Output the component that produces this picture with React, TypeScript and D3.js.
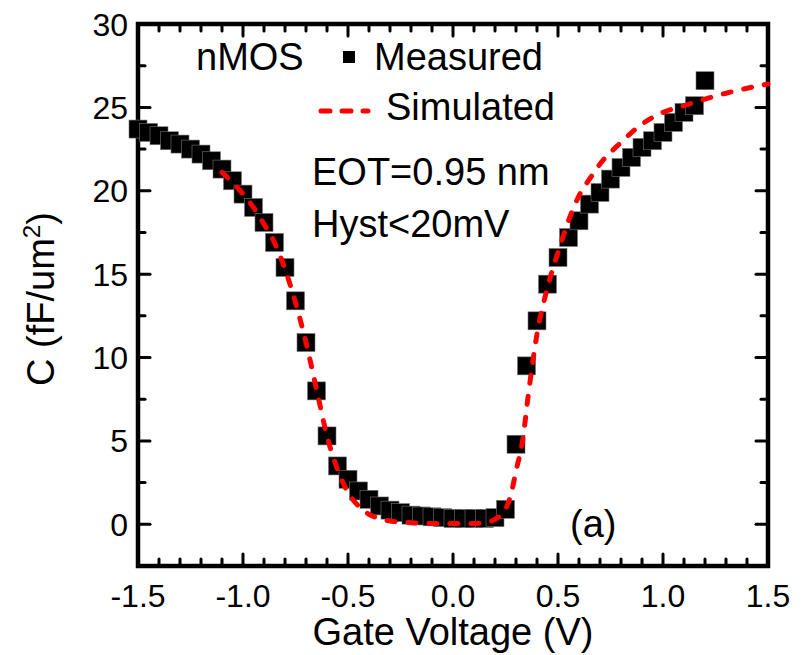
import React, { useEffect, useRef } from 'react';
import * as d3 from 'd3';

// measured C-V points (gate voltage in V, capacitance in fF/um^2)
const measuredV = [
    -1.50, -1.45, -1.40, -1.35, -1.30, -1.25, -1.20, -1.15, -1.10, -1.05,
    -1.00, -0.95, -0.90, -0.85, -0.80, -0.75, -0.70, -0.65, -0.60, -0.55,
    -0.50, -0.45, -0.40, -0.35, -0.30, -0.25, -0.20, -0.15, -0.10, -0.05,
    0.00, 0.05, 0.10, 0.15, 0.20, 0.25, 0.30, 0.35, 0.40, 0.45,
    0.50, 0.55, 0.60, 0.65, 0.70, 0.75, 0.80, 0.85, 0.90, 0.95,
    1.00, 1.05, 1.10, 1.15, 1.20,
];
const measuredC = [
    23.7, 23.5, 23.3, 23.0, 22.8, 22.5, 22.2, 21.8, 21.3, 20.6,
    19.8, 19.0, 18.1, 16.9, 15.4, 13.4, 10.9, 8.0, 5.3, 3.5,
    2.7, 2.0, 1.5, 1.1, 0.85, 0.7, 0.55, 0.5, 0.45, 0.4,
    0.35, 0.35, 0.35, 0.35, 0.4, 0.9, 4.8, 9.5, 12.2, 14.4,
    16.0, 17.2, 18.2, 19.2, 19.9, 20.7, 21.4, 22.0, 22.6, 23.0,
    23.5, 24.1, 24.7, 25.1, 26.6,
];

// simulated curve
const simulatedV = [
    -1.10, -1.05, -1.00, -0.95, -0.90, -0.85, -0.80, -0.75, -0.70, -0.65,
    -0.60, -0.55, -0.50, -0.45, -0.40, -0.35, -0.30, -0.20, -0.10, 0.00,
    0.10, 0.15, 0.20, 0.25, 0.28, 0.30, 0.33, 0.36, 0.40, 0.45,
    0.50, 0.55, 0.60, 0.65, 0.70, 0.80, 0.90, 1.00, 1.10, 1.20,
    1.30, 1.40, 1.50,
];
const simulatedC = [
    21.1, 20.5, 19.8, 19.0, 18.0, 16.9, 15.3, 13.3, 10.9, 8.1,
    5.3, 3.3, 1.9, 1.1, 0.6, 0.35, 0.2, 0.1, 0.05, 0.05,
    0.05, 0.1, 0.3, 0.9, 2.0, 3.2, 4.9, 7.9, 11.4, 14.2,
    16.3, 18.2, 19.7, 20.7, 21.6, 22.9, 24.0, 24.7, 25.1, 25.5,
    25.85, 26.15, 26.4,
];

const xTicks = [-1.5, -1.0, -0.5, 0.0, 0.5, 1.0, 1.5];
const yTicks = [0, 5, 10, 15, 20, 25, 30];

const FONT = '"Liberation Sans", Arial, sans-serif';

const App: React.FC = () => {
    const svgRef = useRef<SVGSVGElement | null>(null);

    useEffect(() => {
        if (!svgRef.current) return;
        const svg = d3.select(svgRef.current);
        svg.selectAll('*').remove();

        const left = 138, right = 768, top = 24, bottom = 566;

        const x = d3.scaleLinear().domain([-1.5, 1.5]).range([left, right]);
        const y = d3.scaleLinear().domain([-2.5, 30]).range([bottom, top]);

        const majorLen = 12;
        const minorLen = 7;

        // minor + major ticks, all inward, mirrored on top/right
        const xMinor = d3.range(-15, 16).map((d) => d / 10).filter((d) => !xTicks.some((t) => Math.abs(t - d) < 1e-6));
        const yMinor = d3.range(-1, 13).map((d) => d * 2.5 - 0).filter((d) => !yTicks.includes(d) && d >= -2.5 && d <= 30);

        const tickG = svg.append('g')
            .style('stroke', 'black')
            .style('stroke-width', 3)
            .style('stroke-linecap', 'round');

        const xTickData = [
            ...xTicks.map((v) => ({ v, len: majorLen })),
            ...xMinor.map((v) => ({ v, len: minorLen })),
        ];
        xTickData.forEach((t) => {
            tickG.append('line').attr('x1', x(t.v)).attr('x2', x(t.v)).attr('y1', bottom).attr('y2', bottom - t.len);
            tickG.append('line').attr('x1', x(t.v)).attr('x2', x(t.v)).attr('y1', top).attr('y2', top + t.len);
        });
        const yTickData = [
            ...yTicks.map((v) => ({ v, len: majorLen })),
            ...yMinor.map((v) => ({ v, len: minorLen })),
        ];
        yTickData.forEach((t) => {
            tickG.append('line').attr('y1', y(t.v)).attr('y2', y(t.v)).attr('x1', left).attr('x2', left + t.len);
            tickG.append('line').attr('y1', y(t.v)).attr('y2', y(t.v)).attr('x1', right).attr('x2', right - t.len);
        });

        // frame
        svg.append('rect')
            .attr('x', left)
            .attr('y', top)
            .attr('width', right - left)
            .attr('height', bottom - top)
            .style('fill', 'none')
            .style('stroke', 'black')
            .style('stroke-width', 4.5);

        // tick labels
        svg.selectAll('text.xLabel')
            .data(xTicks)
            .enter()
            .append('text')
            .attr('class', 'xLabel')
            .attr('x', (d) => x(d))
            .attr('y', 607)
            .attr('text-anchor', 'middle')
            .style('font-family', FONT)
            .style('font-size', '32px')
            .text((d) => d.toFixed(1));

        svg.selectAll('text.yLabel')
            .data(yTicks)
            .enter()
            .append('text')
            .attr('class', 'yLabel')
            .attr('x', 128)
            .attr('y', (d) => y(d))
            .attr('dy', '0.36em')
            .attr('text-anchor', 'end')
            .style('font-family', FONT)
            .style('font-size', '32px')
            .text((d) => String(d));

        // axis titles
        svg.append('text')
            .attr('x', x(0))
            .attr('y', 645)
            .attr('text-anchor', 'middle')
            .style('font-family', FONT)
            .style('font-size', '38px')
            .text('Gate Voltage (V)');

        const yTitle = svg.append('text')
            .attr('transform', `translate(54, ${(top + bottom) / 2 + 4}) rotate(-90)`)
            .attr('text-anchor', 'middle')
            .style('font-family', FONT)
            .style('font-size', '38px');
        yTitle.append('tspan').text('C (fF/um');
        yTitle.append('tspan').attr('dy', -14).style('font-size', '24px').text('2');
        yTitle.append('tspan').attr('dy', 14).text(')');

        // measured squares
        const size = 18;
        const measured = measuredV.map((v, i) => ({ v, c: measuredC[i] }));
        svg.append('g')
            .selectAll('rect')
            .data(measured)
            .enter()
            .append('rect')
            .attr('x', (d) => x(d.v) - size / 2)
            .attr('y', (d) => y(d.c) - size / 2)
            .attr('width', size)
            .attr('height', size)
            .style('fill', 'black')
            .style('stroke', '#777')
            .style('stroke-width', 0.6);

        // simulated dashed line
        const simulated = simulatedV.map((v, i) => ({ v, c: simulatedC[i] }));
        const line = d3.line<{ v: number; c: number }>()
            .x((d) => x(d.v))
            .y((d) => y(d.c))
            .curve(d3.curveMonotoneX);
        svg.append('path')
            .datum(simulated)
            .attr('d', line)
            .style('fill', 'none')
            .style('stroke', '#ff0000')
            .style('stroke-width', 5)
            .style('stroke-linecap', 'round')
            .style('stroke-dasharray', '8 13');

        // legend + annotations
        const txt = (s: string, tx: number, ty: number) =>
            svg.append('text')
                .attr('x', tx)
                .attr('y', ty)
                .style('font-family', FONT)
                .style('font-size', '38px')
                .text(s);

        txt('nMOS', 196, 70);
        svg.append('rect')
            .attr('x', 343)
            .attr('y', 51)
            .attr('width', 12)
            .attr('height', 12)
            .style('fill', 'black');
        txt('Measured', 374, 70);

        svg.append('line')
            .attr('x1', 321)
            .attr('x2', 368)
            .attr('y1', 111)
            .attr('y2', 111)
            .style('stroke', '#ff0000')
            .style('stroke-width', 5)
            .style('stroke-linecap', 'round')
            .style('stroke-dasharray', '9 12');
        txt('Simulated', 386, 120);

        txt('EOT=0.95 nm', 312, 185);
        txt('Hyst<20mV', 312, 237);
        txt('(a)', 570, 537);
    }, []);

    return (
        <svg
            ref={svgRef}
            width={809}
            height={655}
            style={{ position: 'absolute', left: 0, top: 0, background: 'white' }}
        />
    );
};

export default App;
